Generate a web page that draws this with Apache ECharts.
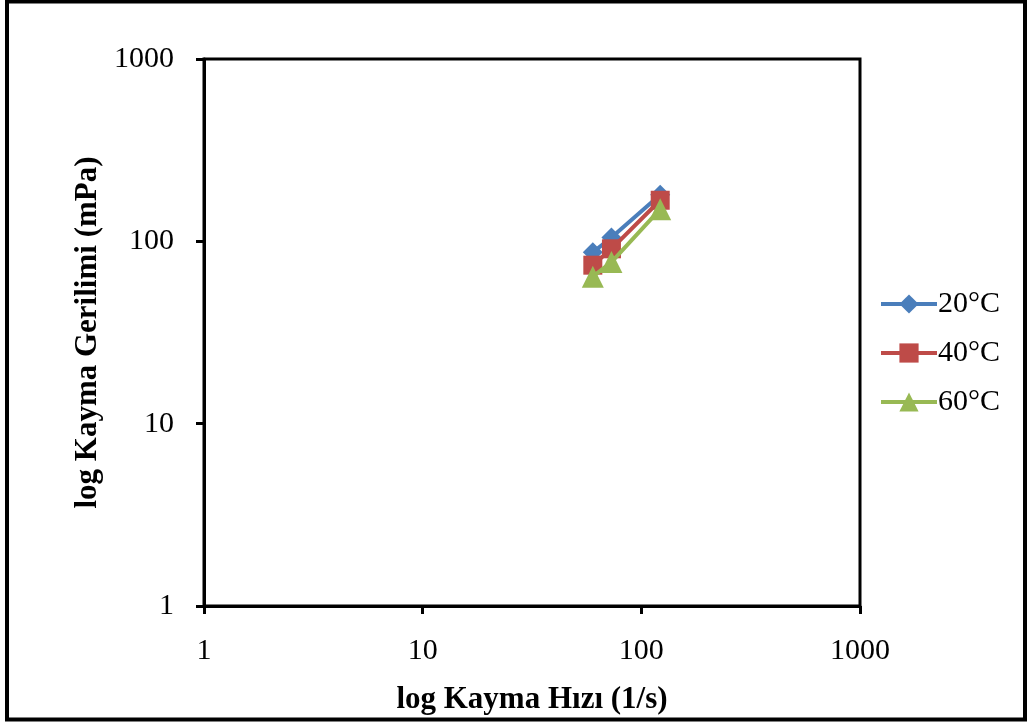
<!DOCTYPE html>
<html>
<head>
<meta charset="utf-8">
<script src="https://cdn.jsdelivr.net/npm/echarts@6/dist/echarts.min.js"></script>
<style>
  html, body { margin: 0; padding: 0; background: #fff; }
  #chart { width: 1028px; height: 724px; }
</style>
</head>
<body>
<div id="chart"></div>
<script>
// Shear rate (1/s) and shear stress (mPa) at three temperatures
const shearRate = [60, 73, 122];
const stress20 = [87, 105, 180];
const stress40 = [74, 91, 168];
const stress60 = [64, 77, 150];
const seriesNames = ['20°C', '40°C', '60°C'];
const axisTicks = [1, 10, 100, 1000];

const FONT = '"Liberation Serif", "Times New Roman", serif';
const colors = ['#4A7EBB', '#BE4B48', '#98B954'];
const symbols = ['diamond', 'rect', 'triangle'];
const symbolSizes = [20, 19, 22];
const stressSets = [stress20, stress40, stress60];

const pairs = vals => shearRate.map((x, i) => [x, vals[i]]);

const chart = echarts.init(document.getElementById('chart'));

const logAxis = (name, gap) => ({
  type: 'log',
  logBase: 10,
  min: axisTicks[0],
  max: axisTicks[axisTicks.length - 1],
  name: name,
  nameLocation: 'middle',
  nameGap: gap,
  nameTextStyle: { fontFamily: FONT, fontWeight: 'bold', fontSize: 31, color: '#000' },
  axisLine: { show: true, lineStyle: { color: '#000', width: 3 } },
  axisTick: { show: true, inside: false, length: 8, lineStyle: { color: '#000', width: 3 } },
  minorTick: { show: false },
  axisLabel: {
    fontFamily: FONT, fontSize: 30, color: '#000', margin: 30,
    formatter: v => String(Math.round(v))
  },
  splitLine: { show: false }
});

chart.setOption({
  backgroundColor: '#fff',
  animation: false,
  grid: { left: 204, top: 59, right: 168, bottom: 118, show: true, borderColor: '#000', borderWidth: 3, backgroundColor: 'transparent' },
  xAxis: logAxis('log Kayma Hızı (1/s)', 78),
  yAxis: logAxis('log Kayma Gerilimi (mPa)', 96),
  legend: {
    orient: 'vertical',
    left: 874,
    top: 284,
    itemWidth: 56,
    itemHeight: 24,
    itemGap: 19,
    lineStyle: { width: 4 },
    textStyle: { fontFamily: FONT, fontSize: 30, color: '#000', padding: [0, 0, 0, -4] },
    data: seriesNames
  },
  series: seriesNames.map((n, k) => ({
    name: n,
    type: 'line',
    data: pairs(stressSets[k]),
    symbol: symbols[k],
    symbolSize: symbolSizes[k],
    showSymbol: true,
    itemStyle: { color: colors[k] },
    lineStyle: { color: colors[k], width: 4 },
    z: 3 + k
  })),
  graphic: [{
    type: 'rect',
    shape: { x: 7, y: 1.5, width: 1018, height: 718 },
    style: { fill: 'none', stroke: '#000', lineWidth: 4 },
    silent: true
  }]
});
</script>
</body>
</html>
